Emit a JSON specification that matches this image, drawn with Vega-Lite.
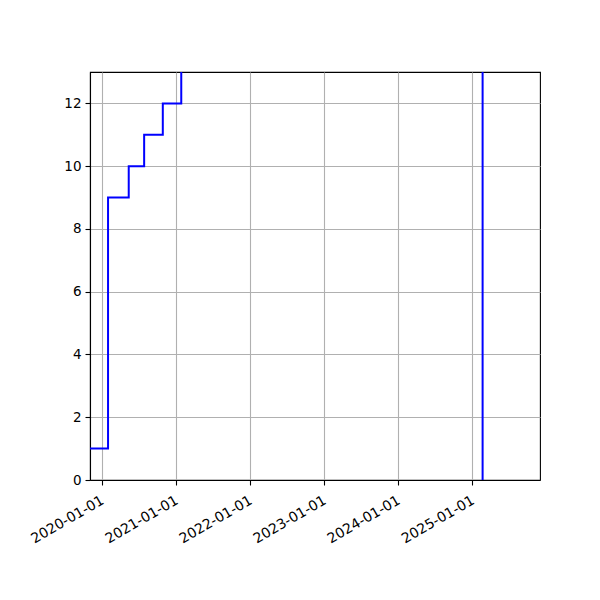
{
  "$schema": "https://vega.github.io/schema/vega-lite/v6.json",
  "width": 450,
  "height": 408,
  "autosize": "none",
  "padding": {"left": 90, "top": 72, "right": 60, "bottom": 120},
  "background": "white",
  "config": {
    "view": {"stroke": "black", "strokeWidth": 1.1},
    "font": "DejaVu Sans",
    "axis": {
      "domainColor": "black",
      "domainWidth": 1.1,
      "tickColor": "black",
      "tickWidth": 1.1,
      "tickSize": 5,
      "labelFont": "DejaVu Sans",
      "labelFontSize": 13.5,
      "labelColor": "black",
      "labelPadding": 4,
      "gridColor": "#b0b0b0",
      "gridWidth": 1.1,
      "title": null
    }
  },
  "data": {
    "values": [
      {"date": "2019-11-03", "count": 1},
      {"date": "2020-01-31", "count": 9},
      {"date": "2020-05-12", "count": 10},
      {"date": "2020-07-27", "count": 11},
      {"date": "2020-10-27", "count": 12},
      {"date": "2021-01-26", "count": 14},
      {"date": "2025-02-20", "count": 0}
    ]
  },
  "mark": {"type": "line", "interpolate": "step-after", "color": "blue", "strokeWidth": 2, "clip": true},
  "encoding": {
    "x": {
      "field": "date",
      "type": "temporal",
      "scale": {
        "type": "utc",
        "domain": [
          {"year": 2019, "month": 11, "date": 3, "utc": true},
          {"year": 2025, "month": 11, "date": 30, "utc": true}
        ]
      },
      "axis": {
        "values": [
          {"year": 2020, "month": 1, "date": 1, "utc": true},
          {"year": 2021, "month": 1, "date": 1, "utc": true},
          {"year": 2022, "month": 1, "date": 1, "utc": true},
          {"year": 2023, "month": 1, "date": 1, "utc": true},
          {"year": 2024, "month": 1, "date": 1, "utc": true},
          {"year": 2025, "month": 1, "date": 1, "utc": true}
        ],
        "labelExpr": "utcFormat(datum.value, '%Y-%m-%d')",
        "labelAngle": -30,
        "labelAlign": "right",
        "labelBaseline": "top",
        "labelPadding": 8,
        "labelOffset": -3,
        "labelFontSize": 14,
        "labelOverlap": false,
        "labelBound": false,
        "grid": true
      }
    },
    "y": {
      "field": "count",
      "type": "quantitative",
      "scale": {"domain": [0, 13], "nice": false},
      "axis": {"values": [0, 2, 4, 6, 8, 10, 12], "grid": true}
    }
  }
}
